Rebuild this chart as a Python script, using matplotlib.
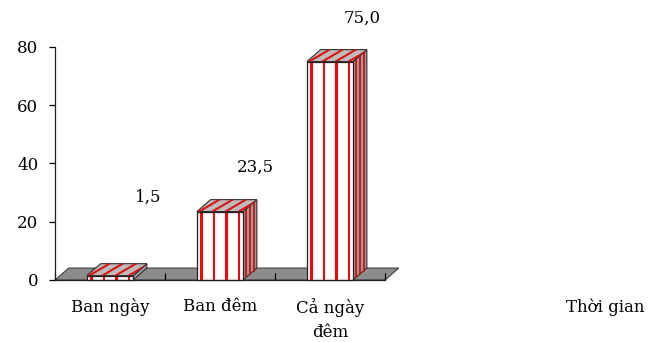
import numpy as np
import matplotlib
matplotlib.use("Agg")
import matplotlib.pyplot as plt
from matplotlib.patches import Polygon, Rectangle

# data
categories = ["Ban ngày", "Ban đêm", "Cả ngày\nđêm"]
values = [1.5, 23.5, 75.0]
value_labels = ["1,5", "23,5", "75,0"]
y_ticks = [0, 20, 40, 60, 80]

plt.rcParams["font.family"] = ["DejaVu Serif", "Liberation Serif"]
plt.rcParams["font.size"] = 12

W, H = 650, 342
fig = plt.figure(figsize=(W / 100, H / 100), dpi=100)
ax = fig.add_axes([55 / W, (H - 280) / H, 330 / W, 233 / H])
ax.set_xlim(0, 3)
ax.set_ylim(0, 80)

# pseudo-3d depth (in data units)
dx, dy = 0.125, 4.1
bar_w = 0.42

# floor
floor = Polygon([(0, 0), (3, 0), (3 + dx, dy), (dx, dy)], closed=True,
                facecolor="#8c8c8c", edgecolor="#404040", lw=0.8,
                clip_on=False, zorder=1)
ax.add_patch(floor)

for i, v in enumerate(values):
    x0 = i + 0.5 - bar_w / 2
    x1 = x0 + bar_w

    # right side face
    side = Polygon([(x1, 0), (x1 + dx, dy), (x1 + dx, v + dy), (x1, v)],
                   closed=True, facecolor="#9a9a9a", edgecolor="#303030",
                   lw=0.8, clip_on=False, zorder=3)
    ax.add_patch(side)
    if v > 3:
        for t in (0.22, 0.5, 0.78):
            ax.plot([x1 + t * dx, x1 + t * dx], [t * dy, v + t * dy],
                    color="#d01010", lw=1.3, clip_on=False, zorder=3.5)

    # top face
    top = Polygon([(x0, v), (x1, v), (x1 + dx, v + dy), (x0 + dx, v + dy)],
                  closed=True, facecolor="#bcbcbc", edgecolor="#303030",
                  lw=0.8, clip_on=False, zorder=4)
    ax.add_patch(top)
    for s in np.linspace(x0 + 0.04, x1 - 0.02, 4):
        ln, = ax.plot([s - 0.02, s + dx + 0.04], [v, v + dy],
                      color="#e01010", lw=1.5, zorder=4.5)
        ln.set_clip_path(top)

    # front face with vertical red stripes
    front = Rectangle((x0, 0), bar_w, v, facecolor="white",
                      edgecolor="none", zorder=5, clip_on=False)
    ax.add_patch(front)
    for s in np.linspace(x0 + 0.04, x1 - 0.035, 4):
        ax.add_patch(Rectangle((s - 0.011, 0), 0.022, v, facecolor="#ff0000",
                               edgecolor="none", zorder=5.5, clip_on=False))
    ax.add_patch(Rectangle((x0, 0), bar_w, v, facecolor="none",
                           edgecolor="#202020", lw=0.9, zorder=6,
                           clip_on=False))

# value labels above and right of each bar
label_dx = [0.345, 0.32, 0.29]
label_dy = [27, 15.3, 15]
for i, v in enumerate(values):
    ax.text(i + 0.5 + label_dx[i], v + label_dy[i], value_labels[i],
            ha="center", va="center", fontsize=12, clip_on=False)

# axes styling
for side_name in ("top", "right"):
    ax.spines[side_name].set_visible(False)
ax.spines["left"].set_color("#202020")
ax.spines["bottom"].set_color("#202020")
ax.spines["left"].set_linewidth(0.9)
ax.spines["bottom"].set_linewidth(0.9)
ax.spines["bottom"].set_zorder(7)

ax.set_yticks(y_ticks)
ax.tick_params(axis="y", length=4, width=0.9, pad=8, labelsize=12)
ax.set_xticks([0, 1, 2, 3])
ax.set_xticklabels([])
ax.tick_params(axis="x", which="major", length=5, width=0.9, direction="in")
ax.set_xticks([0.5, 1.5, 2.5], minor=True)
ax.set_xticklabels(categories, minor=True, fontsize=12, linespacing=1.55)
ax.tick_params(axis="x", which="minor", length=0, pad=13)

fig.text(605 / W, 1 - 307 / H, "Thời gian", ha="center", va="center",
         fontsize=12)

fig.savefig("out.png", dpi=100)
